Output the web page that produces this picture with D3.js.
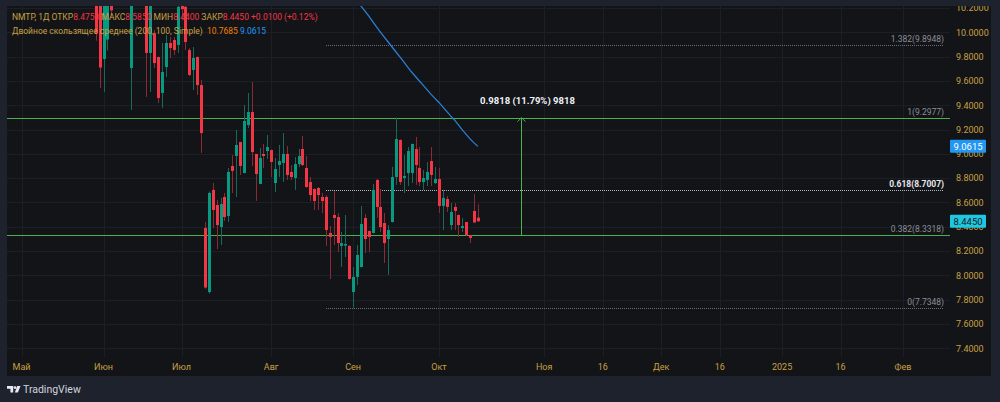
<!DOCTYPE html>
<html>
<head>
<meta charset="utf-8">
<script src="https://cdn.jsdelivr.net/npm/d3@7"></script>
<style>
  html, body { margin: 0; padding: 0; background: #1e222d; }
  svg { display: block; font-family: Roboto, "Liberation Sans", sans-serif; }
</style>
</head>
<body>
<div id="chart"></div>
<script>
// NMTP daily candles, Jun -> mid Oct 2024 (early bars sit above the visible range)
const openVals = [10.30, 10.28, 9.78, 9.94, 10.45, 10.40, 10.45, 10.35, 10.42, 9.706,
  10.40, 10.55, 10.45, 10.35, 9.83, 9.994, 9.797, 9.501, 9.714, 9.912,
  9.937, 9.896, 10.35, 10.21, 9.854, 9.69, 9.797, 9.566, 8.39, 7.863,
  8.703, 8.579, 8.398, 8.645, 8.489, 8.90, 8.982, 9.097, 8.842, 9.237,
  9.344, 8.999, 8.752, 8.999, 9.023, 9.032, 8.76, 8.908, 8.925, 8.999,
  8.851, 8.801, 8.916, 9.04, 8.884, 8.768, 8.711, 8.719, 8.645, 8.645,
  8.349, 8.497, 8.48, 8.242, 8.245, 8.242, 7.863, 7.987, 8.069, 8.472,
  8.365, 8.349, 8.785, 8.563, 8.431, 8.299, 8.439, 8.809, 9.114, 8.801,
  8.842, 8.842, 9.04, 8.884, 8.768, 8.785, 8.941, 8.76, 8.793, 8.571,
  8.628, 8.414, 8.563, 8.497, 8.39, 8.439, 8.332, 8.53, 8.475];
const highVals = [10.40, 10.35, 10.30, 10.35, 10.50, 10.55, 10.60, 10.50, 10.60, 10.50,
  10.65, 10.70, 10.55, 10.42, 10.30, 10.02, 9.80, 9.912, 9.978, 9.961,
  9.961, 10.28, 10.40, 10.25, 9.87, 9.879, 9.80, 9.608, 8.44, 8.69,
  8.76, 8.62, 8.637, 8.678, 8.884, 8.99, 9.196, 9.10, 9.402, 9.501,
  9.591, 9.00, 9.048, 9.081, 9.155, 9.035, 8.966, 9.073, 9.171, 9.065,
  8.908, 8.974, 9.04, 9.147, 8.982, 8.809, 8.715, 8.727, 8.678, 8.66,
  8.406, 8.694, 8.513, 8.357, 8.497, 8.25, 8.069, 8.25, 8.571, 8.505,
  8.37, 8.752, 8.793, 8.711, 8.513, 8.414, 8.892, 9.2977, 9.12, 8.99,
  9.056, 9.085, 9.139, 9.056, 8.867, 8.933, 9.056, 8.892, 8.884, 8.703,
  8.653, 8.596, 8.596, 8.50, 8.472, 8.44, 8.335, 8.67, 8.585];
const lowVals = [9.93, 9.54, 9.51, 9.85, 10.12, 10.25, 10.30, 10.25, 10.30, 9.361,
  10.30, 10.35, 10.25, 9.468, 9.509, 9.706, 9.418, 9.377, 9.632, 9.789,
  9.813, 9.83, 10.10, 9.854, 9.64, 9.525, 9.484, 9.007, 7.89, 7.85,
  8.39, 8.217, 8.25, 8.447, 8.44, 8.678, 8.645, 8.826, 8.84, 9.213,
  8.90, 8.612, 8.75, 8.884, 8.958, 8.809, 8.686, 8.809, 8.768, 8.785,
  8.785, 8.703, 8.892, 8.90, 8.72, 8.612, 8.538, 8.538, 8.513, 8.242,
  7.97, 8.25, 8.192, 8.069, 8.151, 7.965, 7.7348, 7.921, 8.065, 8.184,
  8.192, 8.345, 8.472, 8.357, 8.102, 8.003, 8.435, 8.744, 8.744, 8.678,
  8.735, 8.76, 8.744, 8.735, 8.703, 8.735, 8.735, 8.752, 8.513, 8.373,
  8.521, 8.373, 8.373, 8.316, 8.357, 8.324, 8.266, 8.43, 8.44];
const closeVals = [9.99, 9.71, 10.25, 10.30, 10.18, 10.45, 10.35, 10.42, 10.50, 10.40,
  10.55, 10.45, 10.35, 9.83, 10.25, 9.747, 9.459, 9.673, 9.912, 9.871,
  9.854, 10.21, 10.19, 9.92, 9.649, 9.789, 9.566, 9.171, 7.90, 8.678,
  8.538, 8.414, 8.587, 8.48, 8.851, 8.859, 9.073, 8.90, 9.27, 9.344,
  9.015, 8.834, 8.966, 8.982, 9.056, 8.933, 8.875, 8.941, 8.999, 8.826,
  8.809, 8.916, 8.982, 8.908, 8.727, 8.661, 8.612, 8.661, 8.612, 8.373,
  8.316, 8.472, 8.266, 8.266, 8.258, 7.97, 7.987, 8.168, 8.423, 8.299,
  8.316, 8.703, 8.563, 8.398, 8.266, 8.373, 8.809, 9.122, 8.768, 8.818,
  9.023, 9.081, 8.908, 8.768, 8.801, 8.851, 8.826, 8.793, 8.571, 8.637,
  8.563, 8.521, 8.53, 8.414, 8.406, 8.332, 8.308, 8.435, 8.445];

// 100-period SMA, visible part only (starts at bar 66)
const maStart = 66;
const maVals = [10.30, 10.258, 10.217, 10.176, 10.135, 10.089, 10.044, 10.002, 9.961, 9.920,
  9.879, 9.838, 9.797, 9.756, 9.714, 9.673, 9.636, 9.599, 9.563, 9.526,
  9.489, 9.456, 9.423, 9.386, 9.349, 9.312, 9.279, 9.238, 9.197, 9.160,
  9.123, 9.090, 9.0615];

// time axis: label + bar slot (future slots are calendar days)
const tickLabels = ["Май", "Июн", "Июл", "Авг", "Сен", "Окт", "Ноя", "16", "Дек", "16", "2025", "16", "Фев"];
const tickIdx = [-19, 2, 22, 45, 66, 88, 115, 130, 145, 160, 176, 191, 207];

const priceTicks = [7.4, 7.6, 7.8, 8.0, 8.2, 8.4, 8.6, 8.8, 9.0, 9.2, 9.4, 9.6, 9.8, 10.0, 10.2];

// fibonacci retracement drawn from bar 59
const fibStart = 59;
const fibRatios = ["1.382", "1", "0.618", "0.382", "0"];
const fibValues = [9.8948, 9.2977, 8.7007, 8.3318, 7.7348];

// horizontal lines and the price range measure
const hLines = [9.2977, 8.3318];
const measureIdx = 109;
const measureFrom = 8.3318, measureTo = 9.2977;
const measureText = "0.9818 (11.79%) 9818";

const W = 1000, H = 402;
const pane = { l: 7, t: 6, r: 991, b: 376 };
const plot = { l: 7, t: 6, r: 950, b: 357 };

const gold = "#c8a043";
const upCol = "#089981", downCol = "#f23645";
const upWick = "#17695c", downWick = "#8a2a34";
const green = "#4caf50";

const svg = d3.select("#chart").append("svg")
    .attr("width", W)
    .attr("height", H);

svg.append("rect").attr("width", W).attr("height", H).attr("fill", "#1e222d");
svg.append("rect")
    .attr("x", pane.l).attr("y", pane.t)
    .attr("width", pane.r - pane.l).attr("height", pane.b - pane.t)
    .attr("fill", "#121418");

const x = d3.scaleLinear().domain([0, 98]).range([95.7, 95.7 + 98 * 3.9]);
const y = d3.scaleLinear().domain([7.4, 10.0]).range([348.3, 32.3]);
const px = i => Math.round(x(i));

const defs = svg.append("defs");
defs.append("clipPath").attr("id", "plotClip")
    .append("rect")
    .attr("x", plot.l).attr("y", plot.t)
    .attr("width", plot.r - plot.l).attr("height", plot.b - plot.t);
defs.append("clipPath").attr("id", "paneClip")
    .append("rect")
    .attr("x", pane.l).attr("y", pane.t)
    .attr("width", pane.r - pane.l).attr("height", pane.b - pane.t);

// grid
const grid = svg.append("g").attr("clip-path", "url(#plotClip)");
grid.selectAll(".hg").data(priceTicks).enter().append("line")
    .attr("x1", plot.l).attr("x2", plot.r)
    .attr("y1", d => Math.round(y(d)) + 0.5).attr("y2", d => Math.round(y(d)) + 0.5)
    .attr("stroke", "#1c1f26");
grid.selectAll(".vg").data(tickIdx).enter().append("line")
    .attr("x1", d => px(d) + 0.5).attr("x2", d => px(d) + 0.5)
    .attr("y1", plot.t).attr("y2", plot.b)
    .attr("stroke", "#1c1f26");

const g = svg.append("g").attr("clip-path", "url(#plotClip)");

// fib levels
fibValues.forEach((v, k) => {
    const hi = fibRatios[k] === "0.618";
    const yy = Math.round(y(v)) + 0.5;
    g.append("line")
        .attr("x1", px(fibStart)).attr("x2", plot.r - 6)
        .attr("y1", yy).attr("y2", yy)
        .attr("stroke", hi ? "#b2b5be" : "#6b6e78")
        .attr("stroke-dasharray", "1,1");
    g.append("text")
        .attr("x", plot.r - 6).attr("y", yy - 4)
        .attr("text-anchor", "end")
        .attr("font-size", "8.5px")
        .attr("font-weight", hi ? "bold" : "normal")
        .attr("fill", hi ? "#e6e8ee" : "#8a8d96")
        .text(`${fibRatios[k]}(${d3.format(".4f")(v)})`);
});

// user horizontal lines (green), over the fib dots
g.selectAll(".hline").data(hLines).enter().append("line")
    .attr("x1", plot.l).attr("x2", plot.r)
    .attr("y1", d => Math.round(y(d)) + 0.5).attr("y2", d => Math.round(y(d)) + 0.5)
    .attr("stroke", green);

// candles
const idx = d3.range(openVals.length);
g.selectAll(".wick").data(idx).enter().append("line")
    .attr("x1", i => px(i) + 0.5).attr("x2", i => px(i) + 0.5)
    .attr("y1", i => y(highVals[i])).attr("y2", i => y(lowVals[i]))
    .attr("stroke", i => closeVals[i] >= openVals[i] ? upWick : downWick);
g.selectAll(".body").data(idx).enter().append("rect")
    .attr("x", i => px(i) - 1)
    .attr("width", 3)
    .attr("y", i => y(Math.max(openVals[i], closeVals[i])))
    .attr("height", i => Math.max(1, Math.abs(y(openVals[i]) - y(closeVals[i]))))
    .attr("fill", i => closeVals[i] >= openVals[i] ? upCol : downCol);

// moving average (100)
g.append("path")
    .datum(maVals)
    .attr("d", d3.line().x((d, k) => x(maStart + k)).y(d => y(d)))
    .attr("fill", "none")
    .attr("stroke", "#2a7fd4")
    .attr("stroke-width", 1.3);

// price range measure
const mx = px(measureIdx) + 0.5;
g.append("line")
    .attr("x1", mx).attr("x2", mx)
    .attr("y1", y(measureFrom)).attr("y2", y(measureTo))
    .attr("stroke", green);
g.append("path")
    .attr("d", `M${mx - 4},${y(measureTo) + 4} L${mx},${y(measureTo)} L${mx + 4},${y(measureTo) + 4}`)
    .attr("fill", "none")
    .attr("stroke", green);
g.append("text")
    .attr("x", mx + 6).attr("y", y(measureTo) - 14)
    .attr("text-anchor", "middle")
    .attr("font-size", "9.5px")
    .attr("font-weight", "bold")
    .attr("fill", "#f0f2f5")
    .text(measureText);

// legend
const leg = svg.append("g").attr("font-size", "8.5px");
const l1 = leg.append("text").attr("x", 12).attr("y", 20);
[["NMTP, 1Д ", gold], ["ОТКР", gold], ["8.4750", downCol], [" МАКС", gold], ["8.5850", downCol],
 [" МИН", gold], ["8.4400", downCol], [" ЗАКР", gold], ["8.4450", downCol], [" +0.0100 (+0.12%)", downCol]]
    .forEach(([t, c]) => l1.append("tspan").attr("fill", c).attr("xml:space", "preserve").text(t));
const l2 = leg.append("text").attr("x", 12).attr("y", 34);
[["Двойное скользящее среднее (200, 100, Simple) ", gold], [" 10.7685", "#f57c00"], [" 9.0615", "#2196f3"]]
    .forEach(([t, c]) => l2.append("tspan").attr("fill", c).attr("xml:space", "preserve").text(t));
leg.selectAll("text").style("white-space", "pre");

// price axis
const ax = svg.append("g").attr("clip-path", "url(#paneClip)").attr("font-size", "9px");
ax.selectAll(".pt").data(priceTicks).enter().append("text")
    .attr("x", 956).attr("y", d => y(d) + 3.3)
    .attr("fill", gold)
    .text(d => d3.format(".4f")(d));

function priceTag(v, bg, fg) {
    const yy = y(v);
    ax.append("rect")
        .attr("x", 950).attr("y", yy - 6.5)
        .attr("width", 36).attr("height", 13).attr("rx", 1)
        .attr("fill", bg);
    ax.append("text")
        .attr("x", 968).attr("y", yy + 3.3)
        .attr("text-anchor", "middle")
        .attr("font-size", "9.5px")
        .attr("fill", fg)
        .text(d3.format(".4f")(v));
}
priceTag(maVals[maVals.length - 1], "#2196f3", "#ffffff");
priceTag(closeVals[closeVals.length - 1], "#1ec8e0", "#131722");

// time axis
svg.append("g").attr("font-size", "9px")
    .selectAll("text").data(tickIdx).enter().append("text")
    .attr("x", d => x(d)).attr("y", 370)
    .attr("text-anchor", "middle")
    .attr("fill", gold)
    .text((d, k) => tickLabels[k]);

// TradingView mark
const logo = svg.append("g").attr("fill", "#e8eaef");
logo.append("path").attr("d", "M7,386 h6.2 v6.6 h-2.8 v-3.8 h-3.4z");
logo.append("circle").attr("cx", 15).attr("cy", 387.6).attr("r", 1.4);
logo.append("path").attr("d", "M17.2,386 h3.3 l-2.6,6.6 h-3.1z");
svg.append("text")
    .attr("x", 23).attr("y", 393)
    .attr("font-size", "10.5px")
    .attr("fill", "#d1d4dc")
    .text("TradingView");
</script>
</body>
</html>
